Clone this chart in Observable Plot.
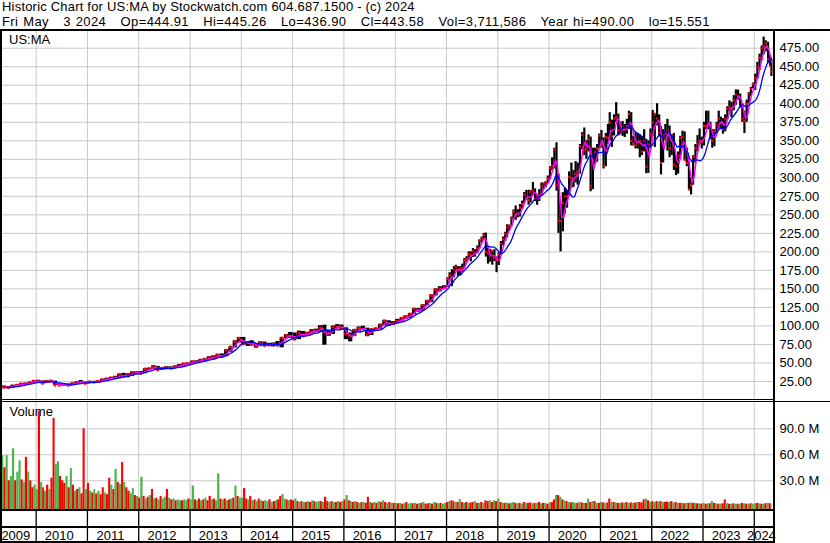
<!DOCTYPE html>
<html><head><meta charset="utf-8">
<script src="https://cdn.jsdelivr.net/npm/d3@7"></script>
<script src="https://cdn.jsdelivr.net/npm/@observablehq/plot@0.6"></script>
<style>
html,body{margin:0;padding:0;background:#fff;overflow:hidden;}
#wrap{position:relative;width:830px;height:543px;overflow:hidden;font-family:"Liberation Sans",Arial,sans-serif;color:#000;}
.abs{position:absolute;}
.ln{position:absolute;background:#000;}
.hdr{position:absolute;left:2px;font-size:13px;line-height:14.5px;white-space:pre;color:#000;}
svg{display:block;}
</style></head>
<body><div id="wrap">
<div class="hdr" style="top:0px;letter-spacing:0.2px">Historic Chart for US:MA by Stockwatch.com 604.687.1500 - (c) 2024</div>
<div class="hdr" style="top:14.5px;letter-spacing:0.42px;word-spacing:0.72px">Fri May   3 2024   Op=444.91   Hi=445.26   Lo=436.90   Cl=443.58   Vol=3,711,586   Year hi=490.00   lo=15.551</div>
<div id="price" class="abs" style="left:0;top:31px"></div>
<div id="volume" class="abs" style="left:0;top:402px"></div>
<div id="axis" class="abs" style="left:0;top:509px"></div>
<div class="abs" style="left:9px;top:33px;font-size:13px;line-height:13px">US:MA</div>
<div class="ln" style="left:0;top:29px;width:830px;height:2px"></div>
<div class="ln" style="left:0;top:399px;width:773px;height:1px"></div>
<div class="ln" style="left:0;top:401px;width:830px;height:1px"></div>
<div class="ln" style="left:0;top:509px;width:775px;height:2px"></div>
<div class="ln" style="left:0;top:526px;width:775px;height:2px"></div>
<div class="ln" style="left:0;top:541px;width:775px;height:2px"></div>
<div class="ln" style="left:0;top:29px;width:2px;height:514px"></div>
<div class="ln" style="left:773px;top:29px;width:2px;height:514px"></div>
</div>
<script>
// ---- Monthly price data, May 2009 .. Dec 2017 (split-adjusted) ----
const mHigh = [
 18.9,17.9,19.6,20.6,22.2,22.7,24.0,26.0,
 26.7,25.7,25.8,26.6,25.5,21.6,21.6,21.7,22.7,24.6,26.3,24.3,
 24.8,25.2,25.7,27.8,29.0,30.4,32.0,34.9,36.0,35.6,37.9,38.0,
 38.5,42.2,43.1,46.6,45.4,43.3,45.0,44.8,46.0,48.0,49.2,50.0,
 52.4,53.0,54.5,55.7,58.5,59.6,61.4,62.2,68.0,71.8,80.0,84.4,
 84.5,79.0,80.0,76.0,78.6,78.2,76.5,77.0,79.0,84.0,88.3,91.2,
 90.5,93.0,92.5,91.5,95.0,95.7,100.4,101.0,94.5,100.0,101.8,101.2,
 97.5,90.5,95.0,98.6,99.6,97.0,96.0,97.0,102.0,107.5,107.0,105.8,
 108.9,111.0,113.7,116.5,123.5,123.5,128.5,134.5,142.0,150.0,153.0,154.2
];
const mLow = [
 16.2,15.9,15.551,18.9,19.5,20.6,21.5,23.5,
 24.5,21.7,22.4,24.6,19.9,19.3,19.4,19.2,19.6,21.7,23.3,22.0,
 22.1,22.9,23.5,25.0,26.9,27.4,29.4,28.4,31.2,30.0,32.0,35.0,
 35.4,35.5,40.0,41.3,40.0,39.8,40.9,42.0,42.7,44.5,45.4,47.5,
 49.2,50.5,50.5,51.2,54.7,53.9,56.7,57.5,58.4,64.4,70.3,77.0,
 74.7,72.4,73.4,70.0,72.0,72.5,72.5,71.6,73.4,70.5,82.5,83.0,
 81.0,81.5,85.0,86.0,89.5,90.7,91.5,74.0,86.0,88.5,96.5,95.0,
 81.5,78.5,86.0,91.5,94.5,85.5,87.0,94.0,95.5,100.0,99.5,100.8,
 102.8,105.5,109.0,110.0,115.5,118.6,120.0,127.0,131.5,140.5,146.0,149.0
];
const mClose = [
 17.0,16.7,19.4,20.2,21.9,21.9,23.6,25.6,
 25.0,22.5,25.4,25.5,20.2,20.0,21.0,19.8,22.4,24.0,23.9,22.4,
 24.6,24.0,25.2,27.6,28.7,30.1,30.3,34.4,31.7,34.7,37.4,37.3,
 35.6,42.0,42.1,45.2,40.7,43.0,43.6,42.7,45.1,46.1,48.9,49.1,
 51.8,51.7,54.1,55.3,57.0,57.5,61.1,58.4,67.3,71.7,78.6,83.5,
 75.7,77.7,74.7,73.5,76.4,73.5,74.2,75.6,73.9,83.8,87.3,86.2,
 82.0,90.0,86.4,90.2,92.2,93.5,97.4,92.5,90.0,99.0,97.9,97.4,
 89.0,86.8,94.5,97.0,95.9,88.1,95.2,96.6,101.8,107.0,102.2,103.3,
 106.3,110.6,112.5,116.3,122.9,121.5,127.7,133.3,141.2,148.8,150.5,151.4
];
// ---- Half-monthly price data, Jan 2018 .. May 3 2024 ----
const hHigh = [
 165,171.9,176,180.2,182,180,180,183.5,191,193.5,200,200,204.5,203,208,216,220,225,225.4,205,203.5,201.5,203,193,
 199,214,220,226.5,236.5,236,247,256.6,262,257,264,268.5,280,283,283.3,283,293.7,285,277,284,293,293,295,302.5,
 315,327,340,347.3,305,265,280,286,283,308,320,310,322,320,345,361,367.3,350,358,355,340,340,345,359,
 364,354,360,372,388,378,385,401.5,386,375,376,372,379,390,388,356,361,360,358,356,365,352,350,366,
 391,386,400,385,369,365,372,379,370,358,360,330,335,356,363,362,340,322,300,330,345,357,366,355,
 375,390,390,375,365,365,375,390,382,380,385,396,404,402,411,418.6,418.5,413,400,390,405,415,422,428,
 440,456,467,478,490,485,483,465,460
];
const hLow = [
 152,162,153,165,174,167,167.5,172,177.5,186,189,186.5,192.5,193,197.5,204,212,216,193,183.5,186,182,187,171.9,
 181.5,195,208,214,219,228,234,244,242.5,246,247,258,265.5,270,263,266,276,268,263,268,275.5,284,286.5,292,
 297.5,310,312,282,225,200,227,252,259,275,286,287,293,290,305,338,330,325,335,281.2,284,318,321,339,
 340,312,315,345,350,341,356.5,375,356.5,358,356,354.5,359,365,343,343,339,339,327,330,335,305.6,306,340,
 356,341,370,355,304,320,350,336,327,330,310,303,305,325,340,323,315,284,276.9,290,320,335,345,339,
 343,365,365,351.5,340,342,359,365,365,359,362,378,389,381,390.5,398,405,395,375,359.8,375,400,410,420,
 418,433,445,458,466,470,455,450,436.9
];
const hClose = [
 163.5,169,166,176,180,175.2,177,178.3,189,190.1,197,196.5,201,198,205,215.6,218,222.6,200,197.7,195,201.1,192,188.7,
 197,211.1,217,224.7,233,235.5,245,254.2,250,251.5,260,264.5,277,272.3,270,281.4,283,271.6,272,276.8,288,292.2,294,298.6,
 313,315.7,338,290,242,241.7,266,275,275,300.9,300,295.7,305,308.5,343,358.2,338,338.2,352,288.6,323,334.6,340,356.9,
 345,316.3,355,353.9,375,356,380,382.1,364,360.6,365,365.1,370,385.9,350,346.2,344,347.7,350,335.5,350,315,345,359.3,
 375,386.4,380,360.9,320,357.4,360,363.4,340,357.9,318,315.5,330,353.8,355,324.4,320,284.3,290,328.2,340,346.2,350,347.7,
 370,370.6,372,355.3,350,363.4,372,380,374,365,380,393.3,395,394.3,405,412.6,410,395.9,380,376.4,400,413.8,420,426.5,
 435,449.2,462,474.7,477,481.6,460,451.2,443.6
];

// ---- Half-monthly volume (millions) and up/down colour, May 2009 .. May 2024 ----
const vol2009 = [59,45,59,30,35,67,30,40,53,31,28,57,40,30,22,25];
const vol2010 = [20,110,28,22,18,25,20,33,102,49,52,35,30,27,35,22,44,25,18,20,22,15,90,20];
const vol2011 = [27,18,16,20,15,18,14,22,16,14,33,25,20,43,28,26,51,28,22,18,15,21,13,12];
const vol2012 = [10,34,12,9,11,13,20,9,10,8,12,9,11,20,10,8,9,7,8,7,7,8,7,9];
const vol2013 = [8,24,8,7,9,7,8,10,7,12,8,9,7,38,9,8,9,7,8,9,10,24,12,10];
const vol2014 = [10,21,9,8,12,7,8,6,9,7,6,7,6,8,5,6,7,8,12,14,9,8,7,8];
const vol2015 = [7,9,6,5,6,5,5,6,5,7,6,5,6,6,5,11,6,5,6,5,5,6,5,6];
const vol2016 = [8,13,7,6,5,6,5,4,5,5,4,11,5,4,5,4,6,5,7,5,4,5,4,4];
const vol2017 = [4,3.5,4,3,3.5,5,3,4,3.5,4,3,3.5,4,5,3,3.5,4,3,5,4,3.5,4,3,4];
const vol2018 = [5,6,7,6,5,5,8.5,5,4,5,4,4.5,5,6,4,4,5,4,7,6,7,5,7,6];
const vol2019 = [9,5,4,4,4.5,3.5,4,5,4,3.5,4,3,5,4,4,4.5,3.5,4,4,5,3.5,4,4,3];
const vol2020 = [4.5,5,8,13,13,11,8,7,6,5,4.5,5,4,4,5,4.5,4,4,9,5,6,6,4,4];
const vol2021 = [5,4.5,4,4.5,9,5,5,4.5,4,4,4.5,4,5,4,4.5,4,4.5,5,5,4.5,8,9,7,5];
const vol2022 = [6,5,6,5.5,6,5,5,5.5,5,6,4.5,5,4,4,4,3.5,4,4,4.5,4,4,3.5,3.5,3];
const vol2023 = [4,3,3.5,3.5,6,4,3.5,3,3,3.5,8,3.5,3,3,3.5,3,3,3,4,3.5,3,3,3.5,3];
const vol2024 = [3.5,4,3.5,3,3,3.5,4,3.5,3.5];
const dir2009 = "grgrggrggrgrgrrg";
const dir2010 = "grgrgrgrrggrrrgrgrgrgrrg";
const dir2011 = "rgrgrgrrgrrgrgrgrgrrggrg";
const dir2012 = "rgrgrgrgrgrggrgrgrggrggr";
const dir2013 = "ggrgrgrgrrgrggrgrgrgrgrg";
const dir2014 = "grrgrgrgrgrggrgrgrrggrgr";
const dir2015 = "rgrgrgrgrgrggrgrrgrgrgrg";
const dir2016 = "rgrgrgrgrgrrgrgrgrgrgrgr";
const dir2017 = "grgrgrggrgrgrgrrgrgrgrgg";
const dir2018 = "rgrrgrgrgrgrrgrgrgrrgrgr";
const dir2019 = "grgrgrggrgrgrgrrgrgrgrgr";
const dir2020 = "grrgrgrgrgrggrgrgrgrgrgr";
const dir2021 = "grgrrgrgrgrgrgrgrgrrrgrg";
const dir2022 = "rgrgrgrrgrgrgrgrgrgrgrgr";
const dir2023 = "grgrgrgrgrrgrgrgrgrgrgrg";
const dir2024 = "grgrgrgrr";

// ---- Tick labels ----
const priceTicks = [25,50,75,100,125,150,175,200,225,250,275,300,325,350,375,400,425,450,475];
const volumeTicks = [30,60,90];
const yearLabels = ["2009","2010","2011","2012","2013","2014","2015","2016","2017","2018","2019","2020","2021","2022","2023","2024"];

// ---- Build tables ----
const DAY = 86400000;
const lastDay = Date.UTC(2024, 4, 3);
const monthly = mHigh.map((h, i) => ({
  mid: new Date(Date.UTC(2009, 4 + i, 15)),
  end: new Date(Date.UTC(2009, 5 + i, 0)),
  high: h, low: mLow[i], close: mClose[i]
}));
const halves = hHigh.map((h, i) => {
  const m = Math.floor(i / 2), b = i % 2 === 1;
  return {
    mid: new Date(Math.min(Date.UTC(2018, m, b ? 23 : 8), lastDay - DAY)),
    end: new Date(Math.min(b ? Date.UTC(2018, m + 1, 0) : Date.UTC(2018, m, 15), lastDay)),
    high: h, low: hLow[i], close: hClose[i]
  };
});
const all = monthly.concat(halves);
all.forEach(d => d.typical = (d.high + d.low + d.close) / 3);
// moving averages over trailing calendar windows (short ~1 month, long ~4 months)
function trailingMean(key, days) {
  return all.map(d => {
    const t = +d.end, w = all.filter(e => +e.end <= t && +e.end > t - days * DAY);
    return {end: d.end, value: d3.mean(w, e => e[key])};
  });
}
const maShort = trailingMean("typical", 25);
const maLong = trailingMean("close", 110);

const volume = [].concat(vol2009, vol2010, vol2011, vol2012, vol2013, vol2014, vol2015, vol2016,
  vol2017, vol2018, vol2019, vol2020, vol2021, vol2022, vol2023, vol2024);
const dirs = (dir2009 + dir2010 + dir2011 + dir2012 + dir2013 + dir2014 + dir2015 + dir2016 +
  dir2017 + dir2018 + dir2019 + dir2020 + dir2021 + dir2022 + dir2023 + dir2024).split("");
const RED = "#ff0000", GREEN = "#4cb34c";
const vbars = volume.map((v, i) => {
  const m = Math.floor(i / 2), second = i % 2 === 1;
  const x1 = Date.UTC(2009, 4 + m, second ? 16 : 1);
  const x2 = Math.min(second ? Date.UTC(2009, 5 + m, 1) : Date.UTC(2009, 4 + m, 16), Date.UTC(2024, 4, 4));
  return {x1: new Date(x1), x2: new Date(x2), v, color: dirs[i] === "g" ? GREEN : RED};
});
const yearStarts = yearLabels.slice(1).map(y => new Date(Date.UTC(+y, 0, 1)));
const xDomain = [new Date(Date.UTC(2009, 3, 22)), new Date(Date.UTC(2024, 4, 17))];
const yearMid = yearLabels.map(y => {
  const s = Math.max(Date.UTC(+y, 0, 1), +xDomain[0]);
  const e = Math.min(Date.UTC(+y + 1, 0, 1), +xDomain[1]);
  return {label: y, x: new Date((s + e) / 2)};
});

const FONT = "'Liberation Sans', Arial, sans-serif";
const common = {
  width: 830, marginLeft: 0, marginRight: 57, marginTop: 0, marginBottom: 0,
  x: {type: "utc", domain: xDomain, axis: null},
  style: {fontFamily: FONT, fontSize: "13px", color: "#000", background: "transparent", overflow: "visible"}
};
const GRID = "#c8c8c8";

const pricePlot = Plot.plot({
  ...common,
  height: 369,
  y: {domain: [0, 500], range: [368.5, -1.8]},
  marks: [
    Plot.ruleY(priceTicks, {stroke: GRID, strokeOpacity: 1}),
    Plot.ruleX(yearStarts, {stroke: GRID, strokeOpacity: 1}),
    Plot.ruleX(monthly, {x: "mid", y1: "low", y2: "high", stroke: "#000", strokeWidth: 4.2}),
    Plot.ruleX(halves, {x: "mid", y1: "low", y2: "high", stroke: "#000", strokeWidth: 2.2}),
    Plot.dot(monthly, {x: "mid", y: "close", r: 1.5, symbol: "square", fill: RED}),
    Plot.dot(halves, {x: "mid", y: "close", r: 1.2, symbol: "square", fill: RED}),
    Plot.line(maShort, {x: "end", y: "value", stroke: "#ff00ff", strokeWidth: 1.5}),
    Plot.line(maLong, {x: "end", y: "value", stroke: "#0000ff", strokeWidth: 1.3}),
    Plot.axisY(priceTicks, {anchor: "right", label: null, tickSize: 0, tickPadding: 6, tickFormat: d => d.toFixed(2), fontSize: 13, fill: "#000"})
  ]
});
document.getElementById("price").appendChild(pricePlot);

const VMIN = -3.1;
const volumePlot = Plot.plot({
  ...common,
  height: 107,
  y: {domain: [VMIN, 120.3], range: [107, 0]},
  color: {type: "identity"},
  marks: [
    Plot.ruleY(volumeTicks, {stroke: GRID, strokeOpacity: 1}),
    Plot.ruleX(yearStarts, {stroke: GRID, strokeOpacity: 1}),
    Plot.text(["Volume"], {frameAnchor: "top-left", text: d => d, dx: 9, dy: 4, fontSize: 13, fill: "#000"}),
    Plot.rectY(vbars, {x1: "x1", x2: "x2", y1: () => VMIN, y2: "v", fill: "color"}),
    Plot.axisY(volumeTicks, {anchor: "right", label: null, tickSize: 0, tickPadding: 6, tickFormat: d => d.toFixed(1) + " M", fontSize: 13, fill: "#000"})
  ]
});
document.getElementById("volume").appendChild(volumePlot);

const axisPlot = Plot.plot({
  ...common,
  height: 34,
  y: {domain: [0, 1], axis: null},
  marks: [
    Plot.ruleX(yearStarts, {stroke: "#000", strokeWidth: 1.3}),
    Plot.text(yearMid, {x: "x", text: "label", frameAnchor: "top", lineAnchor: "middle", dy: 26, dx: -2.5, fontSize: 13, fill: "#000"})
  ]
});
document.getElementById("axis").appendChild(axisPlot);
</script>
</body></html>
